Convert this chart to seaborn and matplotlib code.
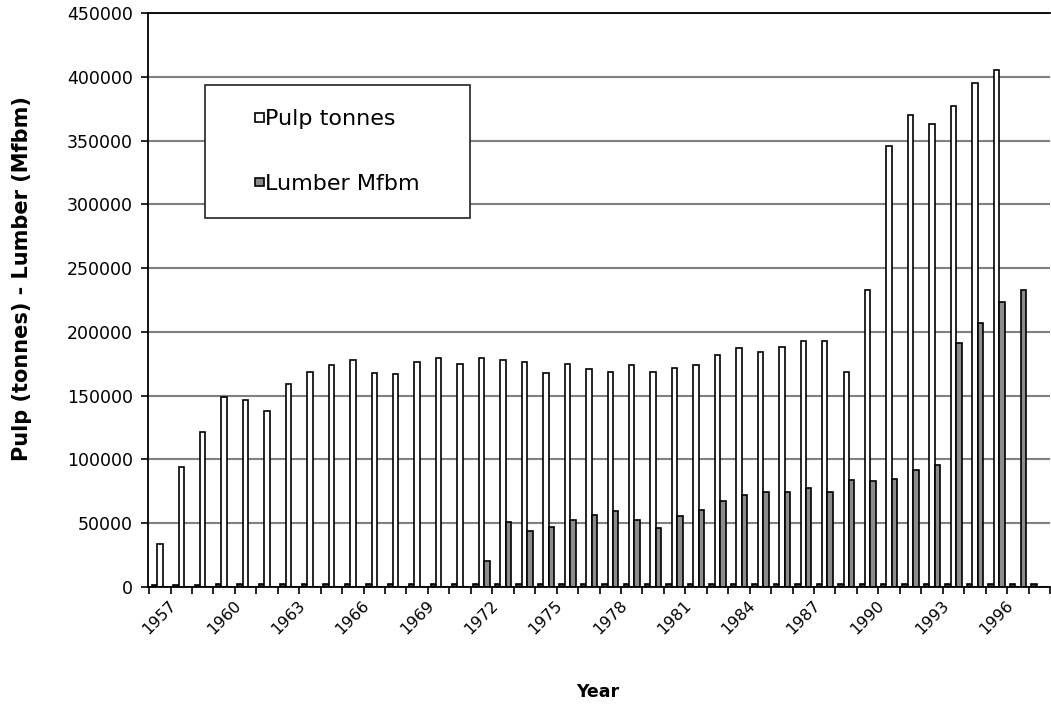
import numpy as np
import pandas as pd
import seaborn as sns
import matplotlib.pyplot as plt
import matplotlib.patches as mpatches
import matplotlib.ticker as mticker
from matplotlib.legend_handler import HandlerPatch

years = list(range(1957, 1999))

pulp = [33700, 94200, 121300, 149000, 146300, 138200, 159500, 168500, 173800, 177700,
        167700, 166700, 176600, 179800, 175000, 179800, 177700, 176400, 167700, 174800,
        170700, 168500, 173800, 168500, 171400, 174000, 181800, 187600, 183900, 188100,
        192500, 192500, 168500, 232600, 345800, 370000, 363000, 377000, 394800, 405000,
        0, 0]

lumber = [0, 0, 0, 0, 0, 0, 0, 0, 0, 0,
          0, 0, 0, 0, 0, 20500, 50800, 43700, 46800, 52900,
          56800, 59500, 52900, 46000, 55300, 60500, 67400, 72400, 74500, 74500,
          77600, 74500, 83700, 82900, 84500, 91600, 95500, 190900, 207000, 223400,
          233000, 0]

# the year column got plotted as a series too (tiny bars at the bottom)
year_vals = years

df = pd.DataFrame({
    "year": years * 3,
    "value": year_vals + pulp + lumber,
    "series": ["Year"] * len(years) + ["Pulp tonnes"] * len(years) + ["Lumber Mfbm"] * len(years),
})

colors = {"Year": "#3a3a3a", "Pulp tonnes": "white", "Lumber Mfbm": "#8c8c8c"}

fig = plt.figure(figsize=(10.51, 7.06), dpi=100)
ax = fig.add_axes([148 / 1051, 1 - 587 / 706, 902 / 1051, 574 / 706])

sns.barplot(data=df, x="year", y="value", hue="series",
            hue_order=["Year", "Pulp tonnes", "Lumber Mfbm"], palette=colors,
            edgecolor="black", linewidth=1.2, width=0.76, legend=False, ax=ax)

ax.set_xlim(-0.55, 41.5)
ax.set_ylim(0, 450000)
ax.set_yticks(range(0, 450001, 50000))
ax.yaxis.set_major_formatter(mticker.StrMethodFormatter("{x:.0f}"))
ax.yaxis.grid(True, color="#808080", linewidth=1.5)
ax.set_axisbelow(True)

ax.set_xticks(range(0, 42, 3))
ax.set_xticklabels([str(y) for y in years[::3]], rotation=45, ha="center", fontsize=11.5)
ax.set_xticks(np.arange(-0.5, 42, 1), minor=True)
ax.tick_params(axis="x", which="major", length=0, pad=8)
ax.tick_params(axis="x", which="minor", length=5, width=1.2, direction="out", color="black")
ax.tick_params(axis="y", length=5, width=1.2, direction="out", labelsize=12.5, pad=6)

for s in ["left", "bottom", "top"]:
    ax.spines[s].set_color("black")
    ax.spines[s].set_linewidth(1.3)
ax.spines["right"].set_visible(False)

ax.set_xlabel("Year", fontsize=12.5, fontweight="bold")
ax.xaxis.set_label_coords(0.499, -0.167)
ax.set_ylabel("Pulp (tonnes) - Lumber (Mfbm)", fontsize=15, fontweight="bold")
ax.yaxis.set_label_coords(-0.129, 0.538)


def small_square(legend, orig_handle, xdescent, ydescent, width, height, fontsize):
    s = 0.38 * fontsize
    return mpatches.Rectangle((width - s - xdescent, -ydescent + (height - s) / 2), s, s)


handles = [
    mpatches.Patch(facecolor="white", edgecolor="black", linewidth=1.2, label="Pulp tonnes"),
    mpatches.Patch(facecolor="#8c8c8c", edgecolor="black", linewidth=1.2, label="Lumber Mfbm"),
]
leg = ax.legend(handles=handles, loc="upper left",
                bbox_to_anchor=(205 / 1051, 1 - 210 / 706, 265 / 1051, 125 / 706),
                bbox_transform=fig.transFigure, mode="expand", fontsize=16,
                handlelength=1.55, handleheight=0.7, handletextpad=0.05,
                labelspacing=2.0, borderpad=1.1, borderaxespad=0,
                fancybox=False, framealpha=1, edgecolor="#222222",
                handler_map={mpatches.Patch: HandlerPatch(patch_func=small_square)})
leg.get_frame().set_linewidth(1.2)

fig.savefig("out.png", dpi=100)
